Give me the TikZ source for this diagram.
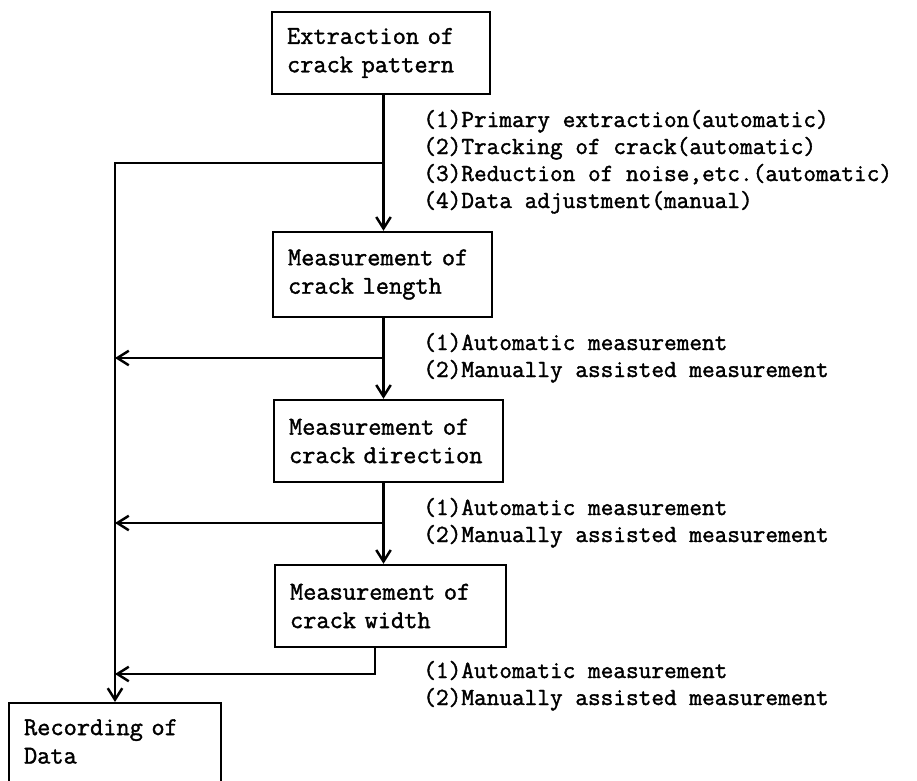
\documentclass[tikz,border=0pt]{standalone}
\usepackage{fontspec}
\setmonofont{Latin Modern Mono}[FakeBold=1.5]
\usetikzlibrary{arrows.meta,positioning}
\tikzset{>={Straight Barb[length=2.3mm,width=2.9mm]},
 every node/.style={font=\ttfamily\fontsize{14}{15.9}\selectfont},
 stepbox/.style={draw,line width=1.4pt,inner xsep=.3cm,inner ysep=0pt,
  minimum height=1.64cm,align=left,text width=#1,
  font=\ttfamily\fontsize{14.6}{16.2}\selectfont},
 flow/.style={line width=1.4pt},
 lab/.style={anchor=base west,inner sep=0pt}}

\begin{document}
\begin{tikzpicture}[x=.02cm,y=-.02cm]
\clip (0,0) rectangle (917,781);
\node[stepbox=3.76cm] (extr) at (381,53) {Extraction of\\crack pattern};
\node[stepbox=3.78cm,minimum height=1.7cm] (len) at (382.5,274.5) {Measurement of\\crack length};
\node[stepbox=3.98cm] (dir) at (388.5,441) {Measurement of\\crack direction};
\node[stepbox=4.02cm] (wid) at (390.5,606) {Measurement of\\crack width};
\node[stepbox=3.64cm,minimum height=0pt,inner ysep=.32cm,anchor=north] (rec) at (115,702)
 {Recording of\\Data\rule[-.6cm]{0pt}{.6cm}};
% main column and side branches
\coordinate (main) at (383.5,0);
\draw[flow,->] (extr.south -| main)--(len.north -| main);
\draw[flow,->] (len.south -| main)--(dir.north -| main);
\draw[flow,->] (dir.south -| main)--(wid.north -| main);
\coordinate (b1) at (383.5,163);
\coordinate (b2) at (383.5,358);
\coordinate (b3) at (383.5,523);
\coordinate (b4) at (375,674);
\draw[flow,->] (b1)-|(rec.north);
\draw[flow,->] (b2)--(b2 -| rec.north);
\draw[flow,->] (b3)--(b3 -| rec.north);
\draw[flow,->] (wid.south -| b4)--(b4)--(b4 -| rec.north);
% notes
\foreach \yy/\txt in {127/(1)Primary extraction(automatic),154/(2)Tracking of crack(automatic),
 181/{(3)Reduction of noise,etc.(automatic)},208/(4)Data adjustment(manual),
 350/(1)Automatic measurement,377/(2)Manually assisted measurement,
 515/(1)Automatic measurement,542/(2)Manually assisted measurement,
 678/(1)Automatic measurement,705/(2)Manually assisted measurement}
 \node[lab] (n\yy) at (423,\yy) {\txt};
\end{tikzpicture}
\end{document}
